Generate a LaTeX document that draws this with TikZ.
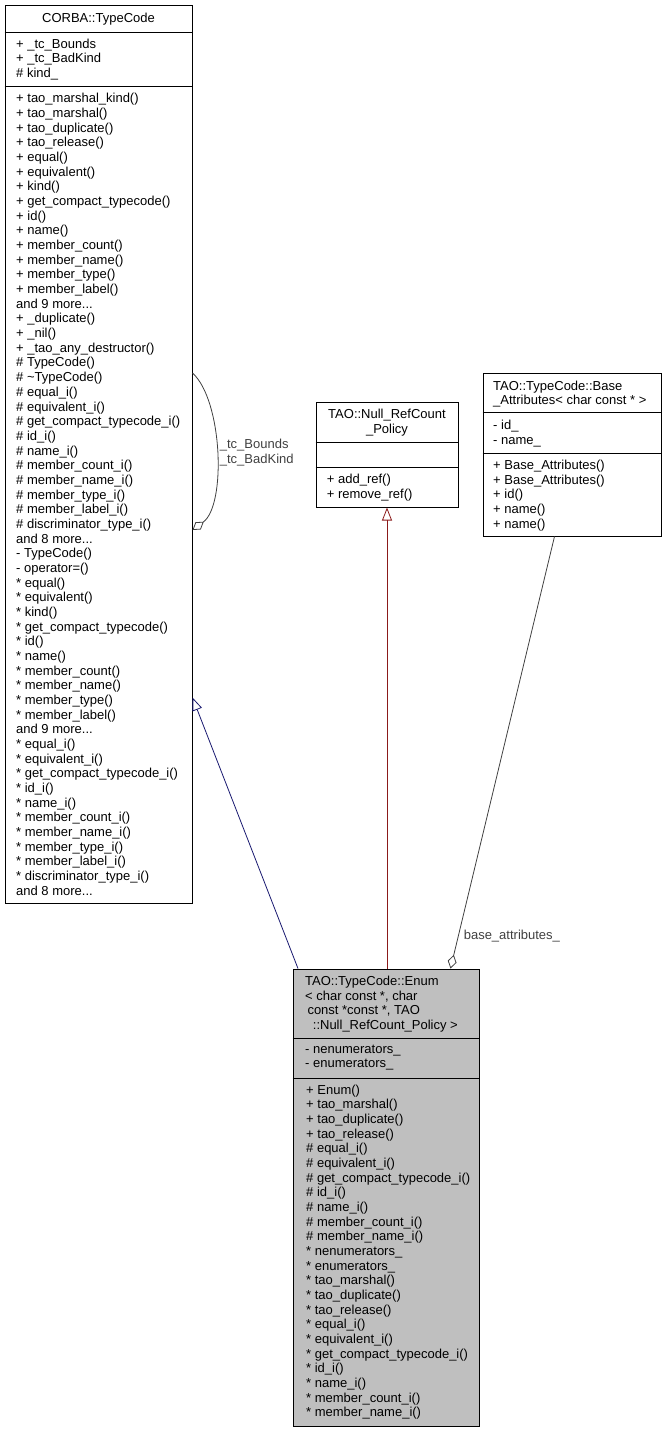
\documentclass[tikz,border=0pt]{standalone}
\usepackage{fontspec}
\setmainfont{Liberation Sans}
\usetikzlibrary{arrows.meta}

\definecolor{inhblue}{HTML}{191970}
\definecolor{inhred}{HTML}{8B1A1A}
\definecolor{usegray}{HTML}{404040}
\definecolor{enumfill}{HTML}{BFBFBF}

\begin{document}
\begin{tikzpicture}[x=1pt, y=-1pt,
  classbox/.style={draw, line width=1pt, inner sep=0pt},
  members/.style={anchor=north west, align=left, inner sep=0pt, font=\fontsize{13}{14.67}\selectfont},
  classname/.style={anchor=north, align=center, inner sep=0pt, font=\fontsize{13}{14.67}\selectfont},
  inherit/.style={line width=0.8pt, -{Triangle[open, length=13pt, width=10pt]}},
  usage/.style={usegray, line width=0.8pt, -{Diamond[open, length=14pt, width=9pt]}},
  lbl/.style={inner sep=0pt, font=\fontsize{13}{14.67}\selectfont}]

\useasboundingbox (0, 0) rectangle (667, 1432);

% the four classes
\node[classbox, minimum width=187, minimum height=898] (corba) at (98.5, 454) {};
\node[classbox, minimum width=142, minimum height=105] (nullpol) at (387, 454.5) {};
\node[classbox, minimum width=178, minimum height=163] (base) at (572, 454.5) {};
\node[classbox, fill=enumfill, minimum width=186, minimum height=457] (enum) at (386, 1197.5) {};

\draw[line width=1pt] (corba.west |- 0, 32) -- (corba.east |- 0, 32);
\draw[line width=1pt] (corba.west |- 0, 86) -- (corba.east |- 0, 86);
\draw[line width=1pt] (nullpol.west |- 0, 442) -- (nullpol.east |- 0, 442);
\draw[line width=1pt] (nullpol.west |- 0, 467) -- (nullpol.east |- 0, 467);
\draw[line width=1pt] (base.west |- 0, 412) -- (base.east |- 0, 412);
\draw[line width=1pt] (base.west |- 0, 453) -- (base.east |- 0, 453);
\draw[line width=1pt] (enum.west |- 0, 1038) -- (enum.east |- 0, 1038);
\draw[line width=1pt] (enum.west |- 0, 1078) -- (enum.east |- 0, 1078);

\node[classname] (corbaname) at (98.5, 12.7) {CORBA::TypeCode};
\node[members] (corbaattr) at (16, 38.5) {+ \_tc\_Bounds\\+ \_tc\_BadKind\\\# kind\_};
\node[members] (corbaops) at (16, 93.3) {+ tao\_marshal\_kind()\\+ tao\_marshal()\\+ tao\_duplicate()\\+ tao\_release()\\+ equal()\\+ equivalent()\\+ kind()\\+ get\_compact\_typecode()\\+ id()\\+ name()\\+ member\_count()\\+ member\_name()\\+ member\_type()\\+ member\_label()\\and 9 more...\\+ \_duplicate()\\+ \_nil()\\+ \_tao\_any\_destructor()\\\# TypeCode()\\\# \textasciitilde TypeCode()\\\# equal\_i()\\\# equivalent\_i()\\\# get\_compact\_typecode\_i()\\\# id\_i()\\\# name\_i()\\\# member\_count\_i()\\\# member\_name\_i()\\\# member\_type\_i()\\\# member\_label\_i()\\\# discriminator\_type\_i()\\and 8 more...\\- TypeCode()\\- operator=()\\* equal()\\* equivalent()\\* kind()\\* get\_compact\_typecode()\\* id()\\* name()\\* member\_count()\\* member\_name()\\* member\_type()\\* member\_label()\\and 9 more...\\* equal\_i()\\* equivalent\_i()\\* get\_compact\_typecode\_i()\\* id\_i()\\* name\_i()\\* member\_count\_i()\\* member\_name\_i()\\* member\_type\_i()\\* member\_label\_i()\\* discriminator\_type\_i()\\and 8 more...};

\node[classname] (nullname) at (387, 409.3) {TAO::Null\_RefCount\\\_Policy};
\node[members] (nullops) at (326.7, 474.3) {+ add\_ref()\\+ remove\_ref()};

\node[members] (basename) at (493, 380.7) {TAO::TypeCode::Base\\\_Attributes< char const * >};
\node[members] (baseattr) at (493, 420) {- id\_\\- name\_};
\node[members] (baseops) at (493, 460) {+ Base\_Attributes()\\+ Base\_Attributes()\\+ id()\\+ name()\\+ name()};

\node[members] (enumname) at (305, 976) {TAO::TypeCode::Enum\\< char const *, char\\\hspace{2.3pt}const *const *, TAO\\\hspace{7.7pt}::Null\_RefCount\_Policy >};
\node[members] (enumattr) at (305, 1044.5) {- nenumerators\_\\- enumerators\_};
\node[members] (enumops) at (306, 1084.5) {+ Enum()\\+ tao\_marshal()\\+ tao\_duplicate()\\+ tao\_release()\\\# equal\_i()\\\# equivalent\_i()\\\# get\_compact\_typecode\_i()\\\# id\_i()\\\# name\_i()\\\# member\_count\_i()\\\# member\_name\_i()\\* nenumerators\_\\* enumerators\_\\* tao\_marshal()\\* tao\_duplicate()\\* tao\_release()\\* equal\_i()\\* equivalent\_i()\\* get\_compact\_typecode\_i()\\* id\_i()\\* name\_i()\\* member\_count\_i()\\* member\_name\_i()};

% relations
\draw[inherit, inhblue] ([xshift=5.5]enum.north west) -- ([yshift=206]corba.south east);
\draw[inherit, inhred] (enum.north -| nullpol.south) -- (nullpol.south);
\draw[usage] ([xshift=72]base.south west) -- ([xshift=158]enum.north west)
  node[lbl, pos=0.924, anchor=west, xshift=5] (baselbl) {base\_attributes\_};
\draw[usage] ([yshift=81]corba.east) .. controls +(30, 27) and +(34, -25) .. ([yshift=-76]corba.east)
  node[lbl, pos=0.5, anchor=west, xshift=3, align=left] (looplbl) {\_tc\_Bounds\\\_tc\_BadKind};

\end{tikzpicture}
\end{document}
